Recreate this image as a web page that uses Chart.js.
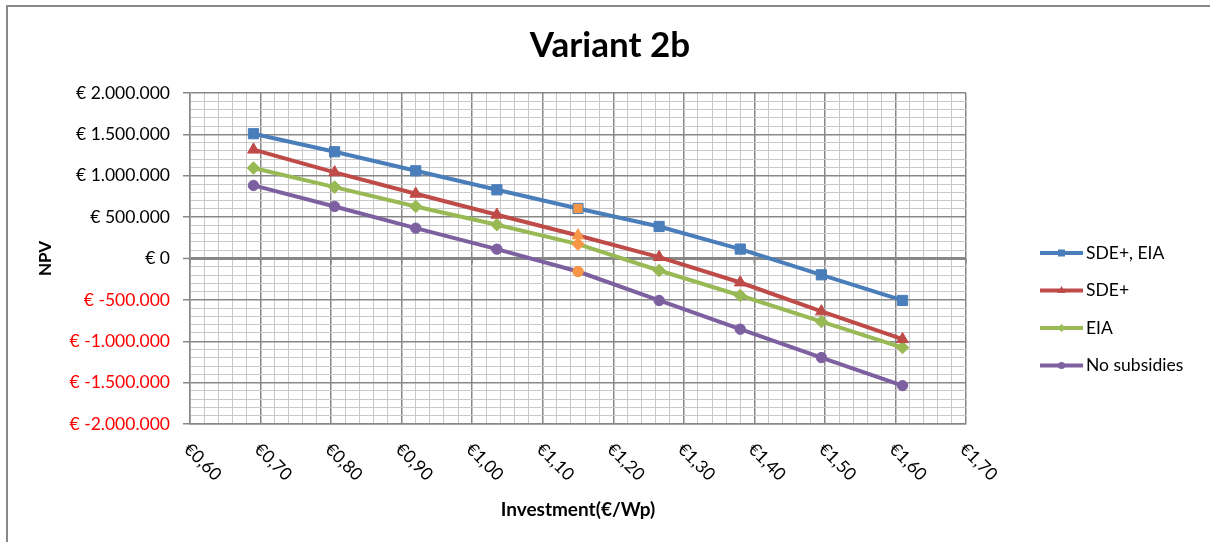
<!DOCTYPE html>
<html>
<head>
<meta charset="utf-8">
<script src="https://cdn.jsdelivr.net/npm/chart.js@4"></script>
<style>
html,body{margin:0;padding:0;background:#fff;}
#wrap{position:relative;width:1210px;height:542px;}
canvas{display:block;}
</style>
</head>
<body>
<div id="wrap"><canvas id="c" width="1210" height="542"></canvas></div>
<script>
// ---- data ----
const chartTitle = 'Variant 2b';
const xAxisTitle = 'Investment(€/Wp)';
const yAxisTitle = 'NPV';
const investment = [0.69, 0.805, 0.92, 1.035, 1.15, 1.265, 1.38, 1.495, 1.61];
const seriesNames = ['SDE+, EIA', 'SDE+', 'EIA', 'No subsidies'];
const npvSdeEia = [1508000, 1290000, 1060000, 830000, 605000, 387000, 114000, -197000, -507000];
const npvSde    = [1315000, 1040000, 782000, 528000, 278000, 17000, -290000, -640000, -975000];
const npvEia    = [1093000, 863000, 629000, 408000, 174000, -145000, -447000, -762000, -1076000];
const npvNone   = [883000, 629000, 367000, 113000, -157000, -507000, -854000, -1197000, -1536000];
const highlightIndex = 4;
const xMin = 0.6, xMax = 1.7, xMajor = 0.1, xMinor = 0.02;
const yMin = -2000000, yMax = 2000000, yMajor = 500000, yMinor = 100000;

// ---- styles ----
const colors = ['#4A7EBB', '#BE4B48', '#98B954', '#7D60A0'];
const highlight = '#F79646';
const shapes = ['rect', 'triangle', 'rectRot', 'circle'];
const radii = [7.2, 6.8, 6.3, 5.2];
const majorGrid = '#878787';
const minorGrid = '#c8c8c8';
const FONT = 'Lato, "Open Sans", sans-serif';
const TXT = 17.5;

function isMajorX(v) { return Math.abs(Math.round(v * 100)) % Math.round(xMajor * 100) === 0; }
function isMajorY(v) { return Math.round(v) % yMajor === 0; }
function fmtEuro(v) {
  const s = String(Math.abs(Math.round(v))).replace(/\B(?=(\d{3})+(?!\d))/g, '.');
  return '€ ' + (v < 0 ? '-' : '') + s;
}
function fmtX(v) { return '€' + v.toFixed(2).replace('.', ','); }

const seriesValues = [npvSdeEia, npvSde, npvEia, npvNone];
const datasets = seriesValues.map((vals, i) => ({
  label: seriesNames[i],
  data: investment.map((x, j) => ({ x: x, y: vals[j] })),
  borderColor: colors[i],
  borderWidth: 4,
  backgroundColor: colors[i],
  pointStyle: shapes[i],
  pointRadius: radii[i],
  pointHoverRadius: radii[i],
  pointBackgroundColor: investment.map((_, j) => j === highlightIndex ? highlight : colors[i]),
  pointBorderColor: investment.map((_, j) => (j === highlightIndex && i !== 0) ? highlight : colors[i]),
  pointBorderWidth: 1,
  tension: 0,
  fill: false
}));

const decor = {
  id: 'decor',
  beforeDatasetsDraw(chart) {
    const ctx = chart.ctx, xs = chart.scales.x, ys = chart.scales.y;
    const y0 = ys.getPixelForValue(0);
    ctx.save();
    ctx.strokeStyle = majorGrid;
    ctx.lineWidth = 1.5;
    xs.ticks.forEach(t => {
      if (!isMajorX(t.value)) return;
      const px = xs.getPixelForValue(t.value);
      ctx.beginPath(); ctx.moveTo(px, y0); ctx.lineTo(px, y0 + 5); ctx.stroke();
    });
    ctx.restore();
  },
  afterDraw(chart) {
    const ctx = chart.ctx, xs = chart.scales.x, area = chart.chartArea;
    ctx.save();
    // outer border
    ctx.strokeStyle = '#888888';
    ctx.lineWidth = 2;
    ctx.beginPath(); ctx.moveTo(7, chart.height); ctx.lineTo(7, 6); ctx.lineTo(chart.width, 6); ctx.stroke();
    // title
    ctx.fillStyle = '#000';
    ctx.font = 'bold 35px ' + FONT;
    ctx.textAlign = 'center'; ctx.textBaseline = 'middle';
    ctx.fillText(chartTitle, chart.width / 2 + 5, 46);
    // rotated x tick labels
    ctx.font = TXT + 'px ' + FONT;
    ctx.textAlign = 'left'; ctx.textBaseline = 'top';
    xs.ticks.forEach(t => {
      if (!isMajorX(t.value)) return;
      const px = xs.getPixelForValue(t.value);
      ctx.save();
      ctx.translate(px + 3, area.bottom + 16);
      ctx.rotate(Math.PI / 4);
      ctx.fillText(fmtX(t.value), 0, 0);
      ctx.restore();
    });
    // legend
    const lx = area.right + 74, ly = area.top + 160, step = 37.5;
    chart.data.datasets.forEach((ds, i) => {
      const y = ly + i * step;
      ctx.strokeStyle = ds.borderColor; ctx.lineWidth = 4;
      ctx.beginPath(); ctx.moveTo(lx, y); ctx.lineTo(lx + 43, y); ctx.stroke();
      const cx = lx + 21.5;
      ctx.fillStyle = ds.borderColor;
      ctx.beginPath();
      if (ds.pointStyle === 'rect') { ctx.rect(cx - 3.5, y - 3.5, 7, 7); }
      else if (ds.pointStyle === 'triangle') { ctx.moveTo(cx, y - 4.5); ctx.lineTo(cx + 4, y + 2.5); ctx.lineTo(cx - 4, y + 2.5); ctx.closePath(); }
      else if (ds.pointStyle === 'rectRot') { ctx.moveTo(cx, y - 4); ctx.lineTo(cx + 4, y); ctx.lineTo(cx, y + 4); ctx.lineTo(cx - 4, y); ctx.closePath(); }
      else { ctx.arc(cx, y, 3.5, 0, Math.PI * 2); }
      ctx.fill();
      ctx.fillStyle = '#000';
      ctx.font = TXT + 'px ' + FONT;
      ctx.textAlign = 'left'; ctx.textBaseline = 'middle';
      ctx.fillText(ds.label, lx + 46, y);
    });
    ctx.restore();
  }
};

function make() {
  new Chart(document.getElementById('c'), {
    type: 'line',
    data: { datasets: datasets },
    options: {
      responsive: false,
      animation: false,
      layout: { padding: { top: 93, right: 244, bottom: 0, left: 0 } },
      plugins: { legend: { display: false }, title: { display: false }, tooltip: { enabled: false } },
      scales: {
        x: {
          type: 'linear',
          min: xMin, max: xMax,
          afterFit(s) { s.height = 118; },
          ticks: { display: false, stepSize: xMinor },
          grid: {
            drawTicks: false,
            color: c => (c.tick && isMajorX(c.tick.value)) ? majorGrid : minorGrid,
            lineWidth: c => (c.tick && isMajorX(c.tick.value)) ? 1.5 : 1
          },
          border: { display: true, color: majorGrid, width: 1.5 },
          title: {
            display: true, text: xAxisTitle, color: '#000',
            font: { family: FONT, size: 19, weight: 'bold' },
            padding: { top: 0, bottom: 21 }
          }
        },
        y: {
          type: 'linear',
          min: yMin, max: yMax,
          afterFit(s) { s.width = 190; },
          ticks: {
            stepSize: yMinor, autoSkip: false, padding: 13,
            font: { family: FONT, size: TXT },
            color: c => (c.tick && c.tick.value < 0) ? '#ff0000' : '#000000',
            callback: v => isMajorY(v) ? fmtEuro(v) : ''
          },
          grid: {
            color: c => { const v = c.tick ? c.tick.value : 1; return (v === 0 || isMajorY(v)) ? majorGrid : minorGrid; },
            lineWidth: c => { const v = c.tick ? c.tick.value : 1; return v === 0 ? 3 : (isMajorY(v) ? 1.5 : 1); },
            tickColor: c => (c.tick && isMajorY(c.tick.value)) ? majorGrid : 'rgba(0,0,0,0)',
            tickLength: 7,
            tickWidth: 1.5
          },
          border: { display: true, color: majorGrid, width: 1.5 },
          title: {
            display: true, text: yAxisTitle, color: '#000',
            font: { family: FONT, size: 17, weight: 'bold' },
            padding: { top: 35, bottom: 0 }
          }
        }
      }
    },
    plugins: [decor]
  });
}
Promise.all([
  document.fonts.load('16px Lato'),
  document.fonts.load('bold 16px Lato')
]).then(make, make);
</script>
</body>
</html>
